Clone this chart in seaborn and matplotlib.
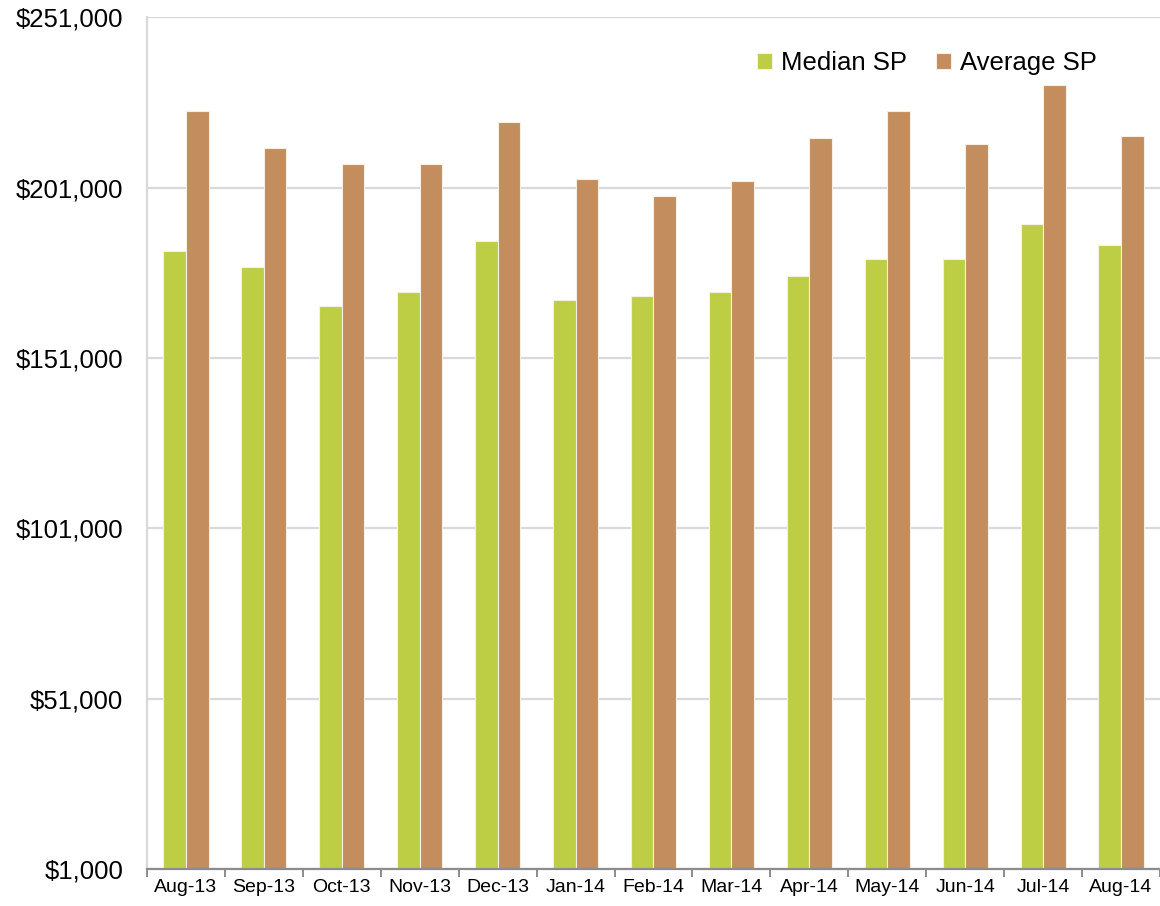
import matplotlib
matplotlib.use("Agg")
import matplotlib.pyplot as plt
from matplotlib.ticker import FuncFormatter, FixedLocator
import seaborn as sns
import pandas as pd
import numpy as np

months = ["Aug-13", "Sep-13", "Oct-13", "Nov-13", "Dec-13", "Jan-14", "Feb-14",
          "Mar-14", "Apr-14", "May-14", "Jun-14", "Jul-14", "Aug-14"]
median_sp = [182400, 177700, 166300, 170400, 185300, 168100, 169200,
             170400, 175000, 180100, 180100, 190400, 184200]
average_sp = [223500, 212600, 208000, 208000, 220200, 203500, 198500,
              203000, 215500, 223500, 213800, 231100, 216200]
series_names = ["Median SP", "Average SP"]
series_colors = ["#BDCE45", "#C38D5E"]
y_ticks = [1000, 51000, 101000, 151000, 201000, 251000]

df = pd.DataFrame({
    "Month": months * 2,
    "Series": [series_names[0]] * len(months) + [series_names[1]] * len(months),
    "Price": median_sp + average_sp,
})

sns.set_theme(style="white")
plt.rcParams["font.family"] = ["Liberation Sans", "DejaVu Sans"]
plt.rcParams["text.color"] = "black"

fig = plt.figure(figsize=(11.6, 9.06), dpi=100)
ax = fig.add_axes([0.1267, 0.0408, 0.8733, 0.94])

sns.barplot(data=df, x="Month", y="Price", hue="Series", order=months,
            hue_order=series_names, palette=series_colors, width=0.58,
            saturation=1, edgecolor="#F7EEE4", linewidth=0.8, ax=ax, legend=True)

ax.set_ylim(y_ticks[0], y_ticks[-1])
ax.set_xlim(-0.5, len(months) - 0.5)
ax.yaxis.set_major_locator(FixedLocator(y_ticks))
ax.yaxis.set_major_formatter(FuncFormatter(lambda v, p: f"${v:,.0f}"))
ax.grid(axis="y", color="#D9D9D9", linewidth=1.6)
ax.set_axisbelow(True)
ax.set_xlabel("")
ax.set_ylabel("")

for side in ["top", "right"]:
    ax.spines[side].set_visible(False)
ax.spines["left"].set_color("#D9D9D9")
ax.spines["left"].set_linewidth(1.6)
ax.spines["bottom"].set_color("#8C8C8C")
ax.spines["bottom"].set_linewidth(1.6)

ax.tick_params(axis="y", length=0, pad=17, labelsize=18.5, labelcolor="black")
ax.tick_params(axis="x", which="major", length=0, pad=7, labelsize=14, labelcolor="black")
ax.set_xticks(np.arange(-0.5, len(months) + 0.5, 1.0), minor=True)
ax.tick_params(axis="x", which="minor", bottom=True, length=6, width=1.4, color="#8C8C8C")

handles, labels = ax.get_legend_handles_labels()
leg = ax.legend(handles, labels, loc="center", bbox_to_anchor=(0.799, 0.9305),
                bbox_transform=fig.transFigure, ncol=2, frameon=False, fontsize=18.5,
                handlelength=0.6, handleheight=0.6, handletextpad=0.35,
                columnspacing=1.1, borderpad=0)
for t in leg.get_texts():
    t.set_color("black")

fig.savefig("out.png", dpi=100)
